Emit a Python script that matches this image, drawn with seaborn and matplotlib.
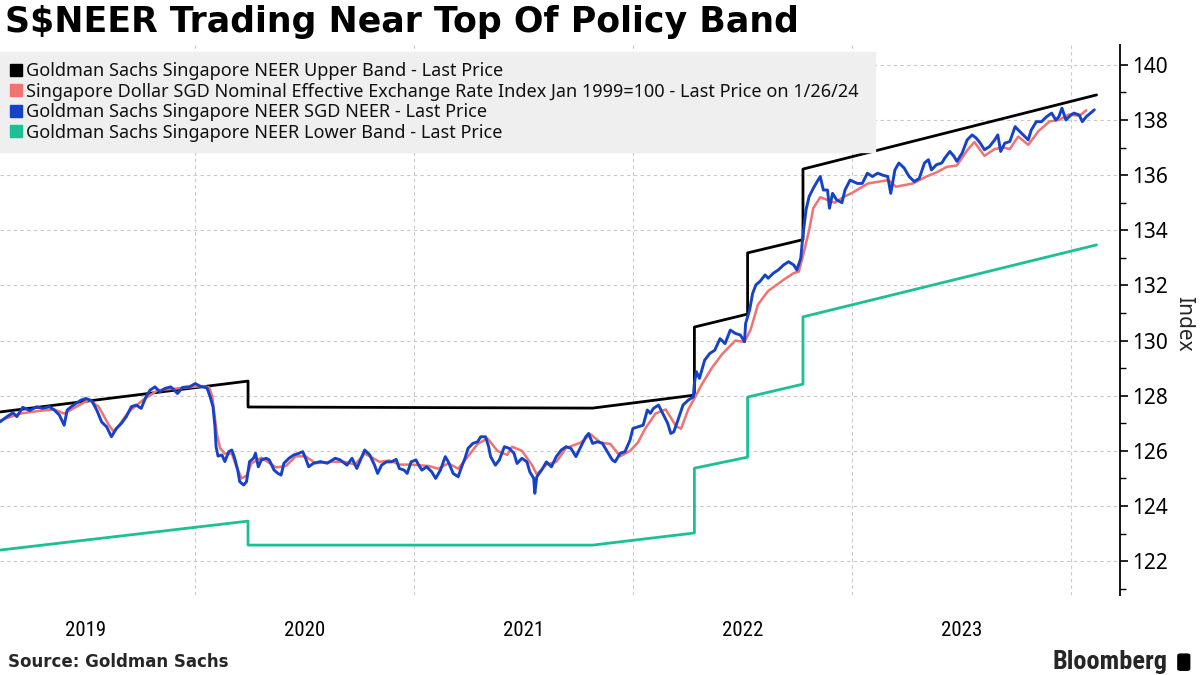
import matplotlib
matplotlib.use('Agg')
import matplotlib.pyplot as plt
from matplotlib import font_manager
from matplotlib.lines import Line2D
from matplotlib.patches import FancyBboxPatch
from matplotlib.ticker import FixedLocator, FixedFormatter, NullFormatter, MultipleLocator
import seaborn as sns


def pick_font(names):
    # первый установленный шрифт из списка
    for name in names:
        try:
            font_manager.findfont(font_manager.FontProperties(family=name), fallback_to_default=False)
            return name
        except ValueError:
            pass
    return 'DejaVu Sans'


# Time in decimal years
neer_t = [
    2019.109, 2019.141, 2019.168, 2019.186, 2019.213, 2019.245, 2019.276, 2019.303, 2019.335, 2019.357,
    2019.380, 2019.402, 2019.416, 2019.438, 2019.479, 2019.501, 2019.528, 2019.551, 2019.573, 2019.596,
    2019.618, 2019.641, 2019.664, 2019.686, 2019.709, 2019.731, 2019.754, 2019.776, 2019.794, 2019.817,
    2019.839, 2019.862, 2019.889, 2019.920, 2019.943, 2019.965, 2019.974,
    2020.001, 2020.024, 2020.055, 2020.069, 2020.082, 2020.091, 2020.096, 2020.105, 2020.123, 2020.136,
    2020.154, 2020.168, 2020.181, 2020.195, 2020.204, 2020.222, 2020.235, 2020.249, 2020.267, 2020.276,
    2020.289, 2020.303, 2020.325, 2020.339, 2020.361, 2020.379, 2020.393, 2020.406, 2020.429, 2020.451,
    2020.474, 2020.492, 2020.505, 2020.519, 2020.541, 2020.573, 2020.604, 2020.640, 2020.663, 2020.694,
    2020.717, 2020.739, 2020.762, 2020.775, 2020.798, 2020.820, 2020.834, 2020.852, 2020.874, 2020.897,
    2020.919, 2020.933, 2020.955, 2020.969, 2020.987,
    2021.009, 2021.022, 2021.036, 2021.058, 2021.081, 2021.099, 2021.121, 2021.143, 2021.157, 2021.179,
    2021.202, 2021.215, 2021.233, 2021.247, 2021.269, 2021.291, 2021.305, 2021.327, 2021.341, 2021.350,
    2021.372, 2021.390, 2021.413, 2021.435, 2021.457, 2021.471, 2021.493, 2021.516, 2021.529, 2021.547,
    2021.552, 2021.561, 2021.583, 2021.605, 2021.628, 2021.650, 2021.673, 2021.695, 2021.717, 2021.740,
    2021.762, 2021.785, 2021.798, 2021.816, 2021.839, 2021.861, 2021.883, 2021.906, 2021.919, 2021.942,
    2021.964, 2021.987,
    2022.000, 2022.023, 2022.047, 2022.066, 2022.080, 2022.094, 2022.117, 2022.140, 2022.159, 2022.173,
    2022.187, 2022.206, 2022.229, 2022.253, 2022.276, 2022.281, 2022.290, 2022.304, 2022.328, 2022.351,
    2022.374, 2022.398, 2022.421, 2022.445, 2022.468, 2022.491, 2022.510, 2022.515, 2022.533, 2022.547,
    2022.562, 2022.580, 2022.604, 2022.618, 2022.641, 2022.664, 2022.688, 2022.711, 2022.735, 2022.749,
    2022.767, 2022.777, 2022.791, 2022.805, 2022.824, 2022.842, 2022.856, 2022.870, 2022.889, 2022.898,
    2022.912, 2022.931, 2022.955, 2022.969, 2022.992,
    2023.025, 2023.048, 2023.071, 2023.094, 2023.118, 2023.141, 2023.164, 2023.178, 2023.197, 2023.215,
    2023.239, 2023.262, 2023.285, 2023.308, 2023.332, 2023.350, 2023.364, 2023.387, 2023.411, 2023.425,
    2023.448, 2023.467, 2023.480, 2023.504, 2023.527, 2023.550, 2023.569, 2023.587, 2023.606, 2023.629,
    2023.653, 2023.667, 2023.680, 2023.699, 2023.722, 2023.746, 2023.760, 2023.783, 2023.806, 2023.820,
    2023.843, 2023.867, 2023.890, 2023.913, 2023.932, 2023.946, 2023.960, 2023.978,
    2024.001, 2024.015, 2024.039, 2024.053, 2024.071, 2024.090, 2024.108,
]
neer_v = [
    127.05, 127.24, 127.38, 127.24, 127.58, 127.46, 127.60, 127.54, 127.60, 127.48,
    127.30, 126.93, 127.48, 127.62, 127.84, 127.90, 127.82, 127.48, 127.05, 126.87,
    126.51, 126.81, 127.00, 127.24, 127.60, 127.66, 127.54, 127.96, 128.20, 128.32,
    128.14, 128.26, 128.32, 128.08, 128.30, 128.32, 128.32,
    128.44, 128.34, 128.28, 127.96, 127.60, 126.87, 126.15, 125.81, 125.85, 125.61,
    125.97, 126.03, 125.73, 125.30, 124.88, 124.76, 124.88, 125.61, 125.73, 125.91,
    125.42, 125.67, 125.73, 125.67, 125.30, 125.18, 125.12, 125.55, 125.73, 125.85,
    125.91, 125.97, 125.73, 125.42, 125.55, 125.61, 125.55, 125.73, 125.67, 125.48,
    125.73, 125.36, 125.79, 126.03, 125.85, 125.48, 125.18, 125.48, 125.60, 125.60,
    125.69, 125.36, 125.30, 125.18, 125.60,
    125.67, 125.48, 125.30, 125.42, 125.24, 125.00, 125.30, 125.79, 125.60, 125.18,
    125.06, 125.36, 125.73, 126.09, 126.27, 126.33, 126.51, 126.51, 126.15, 125.79,
    125.48, 125.67, 126.15, 126.09, 125.91, 125.54, 125.73, 125.60, 125.24, 125.00,
    124.46, 125.06, 125.30, 125.60, 125.42, 125.79, 126.03, 126.15, 126.09, 125.79,
    126.15, 126.51, 126.63, 126.27, 126.33, 126.27, 125.97, 125.67, 125.60, 125.91,
    125.97, 126.39,
    126.81, 126.87, 126.93, 127.48, 127.36, 127.54, 127.66, 127.30, 127.00, 126.63,
    126.69, 127.12, 127.66, 127.84, 127.96, 128.45, 128.87, 128.63, 129.29, 129.53,
    129.65, 130.07, 129.89, 130.38, 130.26, 130.20, 129.96, 130.62, 131.10, 131.71,
    132.02, 132.14, 132.38, 132.26, 132.44, 132.56, 132.74, 132.86, 132.74, 132.56,
    132.99, 133.83, 134.74, 135.22, 135.52, 135.77, 135.95, 135.46, 135.46, 134.80,
    135.34, 135.10, 135.00, 135.46, 135.82,
    135.70, 135.70, 136.07, 135.95, 136.07, 136.00, 135.95, 135.34, 136.19, 136.44,
    136.26, 135.95, 135.77, 135.88, 136.44, 136.56, 136.19, 136.38, 136.44, 136.62,
    136.86, 136.68, 136.50, 136.80, 137.28, 137.46, 137.34, 137.16, 136.92, 137.04,
    137.28, 137.46, 136.86, 137.16, 137.22, 137.76, 137.64, 137.46, 137.28, 137.64,
    137.94, 137.94, 138.12, 138.25, 138.00, 138.12, 138.43, 138.00,
    138.18, 138.25, 138.18, 137.94, 138.12, 138.25, 138.37,
]

index_t = [
    2019.109, 2019.200, 2019.290, 2019.357, 2019.402, 2019.447, 2019.515, 2019.560, 2019.605, 2019.628,
    2019.650, 2019.695, 2019.763, 2019.830, 2019.898, 2019.965,
    2020.033, 2020.064, 2020.078, 2020.100, 2020.114, 2020.136, 2020.168, 2020.190, 2020.213, 2020.235,
    2020.258, 2020.303, 2020.370, 2020.415, 2020.460, 2020.505, 2020.550, 2020.618, 2020.685, 2020.730,
    2020.775, 2020.843, 2020.888, 2020.933, 2020.991,
    2021.067, 2021.112, 2021.157, 2021.202, 2021.247, 2021.291, 2021.336, 2021.381, 2021.426, 2021.448,
    2021.493, 2021.538, 2021.561, 2021.605, 2021.650, 2021.695, 2021.762, 2021.807, 2021.852, 2021.897,
    2021.942, 2021.987,
    2022.023, 2022.056, 2022.103, 2022.150, 2022.197, 2022.220, 2022.253, 2022.281, 2022.314, 2022.360,
    2022.407, 2022.468, 2022.510, 2022.538, 2022.571, 2022.618, 2022.688, 2022.735, 2022.758, 2022.781,
    2022.805, 2022.824, 2022.856, 2022.889, 2022.922, 2022.960,
    2023.000, 2023.075, 2023.168, 2023.201, 2023.280, 2023.341, 2023.387, 2023.434, 2023.480, 2023.527,
    2023.560, 2023.606, 2023.653, 2023.690, 2023.722, 2023.760, 2023.806, 2023.853, 2023.904, 2023.946,
    2023.992,
    2024.039, 2024.071,
]
index_v = [
    127.10, 127.35, 127.45, 127.50, 127.35, 127.55, 127.85, 127.60, 126.95, 126.70,
    126.90, 127.40, 127.85, 128.20, 128.25, 128.30,
    128.35, 128.30, 128.00, 126.60, 126.10, 125.90, 125.90, 125.40, 125.00, 125.10,
    125.55, 125.75, 125.40, 125.45, 125.80, 125.80, 125.55, 125.60, 125.60, 125.50,
    125.90, 125.60, 125.65, 125.50, 125.50,
    125.45, 125.35, 125.55, 125.35, 125.80, 126.25, 126.45, 126.00, 125.85, 126.15,
    126.00, 125.50, 125.15, 125.50, 125.60, 126.10, 126.30, 126.60, 126.30, 126.25,
    125.80, 126.00,
    126.30, 126.80, 127.35, 127.50, 126.90, 126.80, 127.50, 127.90, 128.40, 129.00,
    129.50, 130.00, 129.95, 130.40, 131.30, 131.80, 132.20, 132.45, 132.50, 133.20,
    134.00, 134.80, 135.20, 135.10, 135.00, 135.20,
    135.35, 135.70, 135.82, 135.58, 135.70, 135.95, 136.10, 136.30, 136.35, 136.90,
    137.20, 136.70, 136.95, 137.00, 136.95, 137.40, 137.10, 137.60, 137.95, 138.00,
    138.20,
    138.15, 138.35,
]

upper_t = [2019.109, 2020.242, 2020.242, 2021.816, 2022.281, 2022.281,
           2022.524, 2022.524, 2022.777, 2022.777, 2024.118]
upper_v = [127.41, 128.53, 127.59, 127.55, 128.02, 130.49,
           130.96, 133.18, 133.66, 136.22, 138.91]

lower_t = [2019.109, 2020.242, 2020.242, 2021.816, 2022.281, 2022.281,
           2022.524, 2022.524, 2022.777, 2022.777, 2024.118]
lower_v = [122.40, 123.45, 122.58, 122.58, 123.02, 125.37,
           125.77, 127.95, 128.42, 130.86, 133.47]

year_edges = [2020, 2021, 2022, 2023, 2024]
year_mids = [2019.5, 2020.5, 2021.5, 2022.5, 2023.5]
year_labels = ['2019', '2020', '2021', '2022', '2023']

labels = [
    'Goldman Sachs Singapore NEER Upper Band - Last Price',
    'Singapore Dollar SGD Nominal Effective Exchange Rate Index Jan 1999=100 - Last Price on 1/26/24',
    'Goldman Sachs Singapore NEER SGD NEER - Last Price',
    'Goldman Sachs Singapore NEER Lower Band - Last Price',
]
colors = ['#000000', '#f27171', '#1642c8', '#1dbf95']

sns.set_theme(style='white')
base = pick_font(['Noto Sans', 'Open Sans', 'DejaVu Sans'])
narrow = pick_font(['Liberation Sans Narrow', 'Roboto Condensed', 'Open Sans Condensed', base])
plt.rcParams['font.family'] = [base, 'DejaVu Sans']

fig = plt.figure(figsize=(12, 6.75), dpi=100)
ax = fig.add_axes([0.0, 0.1185, 0.9333, 0.8148])

series = [
    (upper_t, upper_v, colors[0], 2.0, 3),
    (lower_t, lower_v, colors[3], 2.0, 3),
    (index_t, index_v, colors[1], 1.8, 4),
    (neer_t, neer_v, colors[2], 2.1, 5),
]
for t, v, c, lw, z in series:
    sns.lineplot(x=t, y=v, ax=ax, color=c, linewidth=lw, estimator=None,
                 sort=False, legend=False, zorder=z)

ax.set_xlim(2019.109, 2024.225)
ax.set_ylim(120.77, 140.72)

# годы: сетка на границах, подписи посередине
ax.xaxis.set_major_locator(FixedLocator(year_edges))
ax.xaxis.set_major_formatter(NullFormatter())
ax.xaxis.set_minor_locator(FixedLocator(year_mids))
ax.xaxis.set_minor_formatter(FixedFormatter(year_labels))
ax.tick_params(axis='x', which='both', length=0)
ax.tick_params(axis='x', which='minor', pad=19, labelsize=15, labelcolor='black')
for lab in ax.xaxis.get_minorticklabels():
    lab.set_fontfamily([narrow, 'DejaVu Sans'])

ax.yaxis.tick_right()
ax.yaxis.set_major_locator(MultipleLocator(2))
ax.yaxis.set_minor_locator(MultipleLocator(1))
ax.tick_params(axis='y', which='major', direction='out', length=6, width=1.2,
               color='black', labelsize=15, pad=3, labelcolor='black')
ax.tick_params(axis='y', which='minor', direction='out', length=4, width=1.0, color='black')
ax.set_xlabel('')
ax.set_ylabel('')

ax.grid(True, which='major', axis='both', color='#c8c8c8', linestyle=(0, (3, 3)), linewidth=0.8)
for side in ('left', 'top', 'bottom'):
    ax.spines[side].set_visible(False)
ax.spines['right'].set_color('black')
ax.spines['right'].set_linewidth(1.3)

handles = [Line2D([], [], marker='s', linestyle='none', markersize=9,
                  markerfacecolor=c, markeredgecolor=c) for c in colors]
leg = ax.legend(handles, labels, loc='upper left', bbox_to_anchor=(0, 0, 0.781, 0.987),
                mode='expand', frameon=True, facecolor='#efefef', edgecolor='#efefef',
                fancybox=False, framealpha=1, fontsize=13, handlelength=0.7,
                handletextpad=0.2, labelspacing=0.14, borderpad=0.55, borderaxespad=0)
for txt in leg.get_texts():
    txt.set_color('#111111')

fig.text(0.004, 0.967, 'S$NEER Trading Near Top Of Policy Band', fontsize=25,
         fontweight='bold', va='center', ha='left', color='black', family='DejaVu Sans')
fig.text(0.986, 0.521, 'Index', fontsize=15, rotation=270, va='center', ha='center')
fig.text(0.007, 0.019, 'Source: Goldman Sachs', fontsize=12, fontweight='bold',
         va='center', ha='left', family='DejaVu Sans')
fig.text(0.973, 0.02, 'Bloomberg', fontsize=19, fontweight='bold', va='center',
         ha='right', family=[narrow, 'DejaVu Sans'])
# маленький значок рядом с логотипом
fig.patches.append(FancyBboxPatch((0.981, 0.006), 0.011, 0.026, boxstyle='round,pad=0,rounding_size=0.003',
                                  transform=fig.transFigure, facecolor='black', edgecolor='none'))

fig.savefig('out.png', dpi=100)
plt.close(fig)
